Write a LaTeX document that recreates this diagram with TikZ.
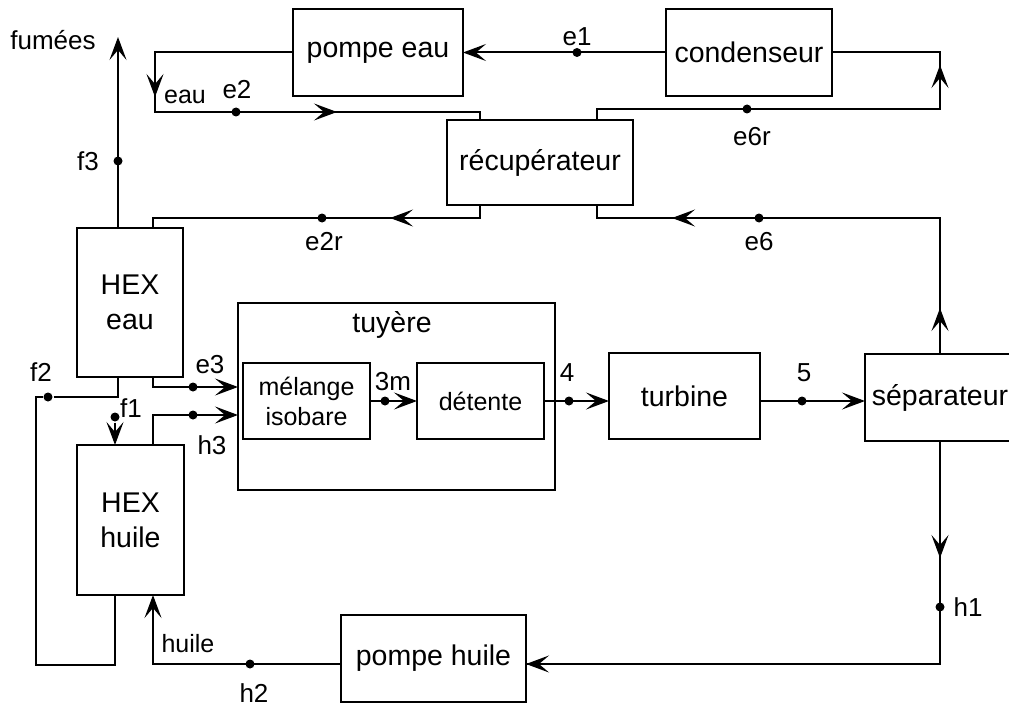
\documentclass[tikz,border=0pt]{standalone}
\usepackage{fontspec}
\setmainfont{Liberation Sans}
\usetikzlibrary{arrows.meta,calc}
\begin{document}
\begin{tikzpicture}[x=1pt,y=-1pt,
  line width=2pt,
  box/.style={draw, line width=2pt, inner sep=0pt, outer sep=0pt, align=center,
    font=\fontsize{28.5}{35}\selectfont},
  lbl/.style={inner sep=0pt, font=\fontsize{26}{30}\selectfont},
  flow/.style={-{Stealth[length=23pt,width=17pt,inset=10pt]}},
  jdot/.style={circle, fill, inner sep=0pt, minimum size=9pt}
]
\useasboundingbox (0,0) rectangle (1009,706);
\clip (0,0) rectangle (1009,706);

% boxes
\node[box, minimum width=170pt, minimum height=87pt] (pe) at (378,52.5) {pompe eau};
\node[box, minimum width=166pt, minimum height=87pt] (cd) at (749,52.5) {condenseur};
\node[box, minimum width=186pt, minimum height=85pt] (rc) at (540,162.5) {récupérateur};
\node[box, minimum width=106pt, minimum height=149pt] (hexe) at (130,302.5) {HEX\\eau};
\node[box, minimum width=107pt, minimum height=150pt] (hexh) at (130.5,520) {HEX\\huile};
\node[box, minimum width=317pt, minimum height=187pt] (ty) at (396.5,396.5) {};
\node[inner sep=0pt, font=\fontsize{28.5}{30}\selectfont] (tyl) at (392,325) {tuyère};
\node[box, minimum width=127pt, minimum height=76pt, font=\fontsize{25}{30}\selectfont] (mel) at (306.5,401) {mélange\\isobare};
\node[box, minimum width=127pt, minimum height=76pt, font=\fontsize{25}{30}\selectfont] (det) at (480.5,401) {détente};
\node[box, minimum width=151pt, minimum height=86pt] (tb) at (684.5,396) {turbine};
\node[box, minimum width=150pt, minimum height=87pt] (sep) at (940,397.5) {séparateur};
\node[box, minimum width=185pt, minimum height=87pt] (ph) at (433.5,658.5) {pompe huile};

% named points
\coordinate (aEau) at (155,97);
\coordinate (aE2) at (337,112);
\coordinate (rcInTop) at (480,120);
\coordinate (rcInBot) at (480,205);
\coordinate (rcOutTop) at (597,120);
\coordinate (rcOutBot) at (597,205);
\coordinate (k1) at (597,109);
\coordinate (aE6r) at (940,65);
\coordinate (aSep) at (940,308);
\coordinate (aE6) at (672,218);
\coordinate (aE2r) at (390,218);
\coordinate (hexeIn) at (153,228);
\coordinate (fum) at (118,37);
\coordinate (lb) at (36,665);
\coordinate (aH1) at (940,558);

% dots
\node[jdot] (e1) at (577,52.5) {};
\node[jdot] (e2) at (236,112) {};
\node[jdot] (e6r) at (747,109) {};
\node[jdot] (e2r) at (322,218) {};
\node[jdot] (e6) at (759,218) {};
\node[jdot] (f3) at (118,161) {};
\node[jdot] (e3) at (193,387) {};
\node[jdot] (h3) at (193,415) {};
\node[jdot] (f1) at (115,417) {};
\node[jdot] (f2) at (48,397) {};
\node[jdot] (d3m) at (385,401) {};
\node[jdot] (d4) at (569,401) {};
\node[jdot] (d5) at (802,401) {};
\node[jdot] (h1) at (940,607) {};
\node[jdot] (h2) at (250,664) {};

% water loop
\draw[flow] (cd.west) -- (pe.east);
\draw (pe.west) -| (aEau) |- (aE2) -| (rcInTop);
\draw[flow] (pe.west) -| (aEau);
\draw[flow] (e2) -- (aE2);
\draw (rcOutTop) -- (k1) -| (aE6r) |- (cd.east);
\draw[flow] (e6r) -| (aE6r);
\draw (sep.north) -- (aSep) |- (aE6) -| (rcOutBot);
\draw[flow] (sep.north) -- (aSep);
\draw[flow] (e6) -- (aE6);
\draw (rcInBot) |- (aE2r) -| (hexeIn);
\draw[flow] (rcInBot) |- (aE2r);
\draw[flow] (hexe.south -| hexeIn) |- (e3 -| ty.west);

% fumes
\draw[flow] (hexe.north -| fum) -- (fum);
\draw[flow] (f1) -- (f1 |- hexh.north);
\draw (hexh.south -| f1) |- (lb) |- (f2) -| (fum |- hexe.south);

% oil loop
\draw[flow] (hexh.north -| hexeIn) |- (h3 -| ty.west);
\draw (sep.south) -- (aH1) |- (h2 -| ph.east);
\draw[flow] (sep.south) -- (aH1);
\draw[flow] (h1) |- (h2 -| ph.east);
\draw[flow] (h2 -| ph.west) -| (hexh.south -| hexeIn);

% main line
\draw[flow] (mel.east) -- (det.west);
\draw[flow] (det.east) -- (det.east -| tb.west);
\draw[flow] (det.east -| tb.east) -- (det.east -| sep.west);

% labels
\node[lbl] at (53,40) {fumées};
\node[lbl] at (88,161) {f3};
\node[lbl, font=\fontsize{25}{30}\selectfont] at (185,97) {eau};
\node[lbl] at (237,90) {e2};
\node[lbl] at (577,37) {e1};
\node[lbl] at (752,137) {e6r};
\node[lbl] at (324,242) {e2r};
\node[lbl] at (759,242) {e6};
\node[lbl] at (210,365) {e3};
\node[lbl] at (212,445) {h3};
\node[lbl] at (131,408) {f1};
\node[lbl] at (41,372) {f2};
\node[lbl] at (393,382) {3m};
\node[lbl] at (567,373) {4};
\node[lbl] at (804,373) {5};
\node[lbl] at (968,607) {h1};
\node[lbl, font=\fontsize{25}{30}\selectfont] at (188,644) {huile};
\node[lbl] at (254,693) {h2};
\end{tikzpicture}
\end{document}
